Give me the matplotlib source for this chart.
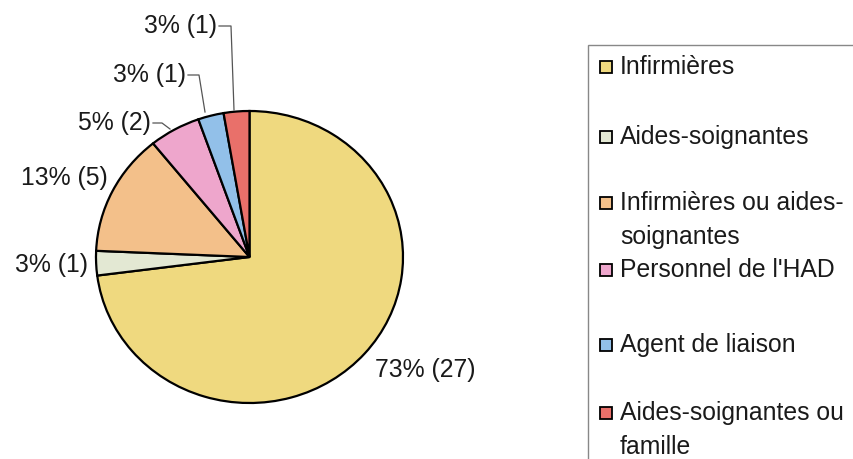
import matplotlib
matplotlib.use("Agg")
import matplotlib.pyplot as plt
from matplotlib.patches import Rectangle

categories = ["Infirmières", "Aides-soignantes", "Infirmières ou aides-\nsoignantes",
              "Personnel de l'HAD", "Agent de liaison", "Aides-soignantes ou\nfamille"]
counts = [27, 1, 5, 2, 1, 1]
percents = [73, 3, 13, 5, 3, 3]
colors = ["#EFD97F", "#E3E8D3", "#F3C08A", "#EEA6CC", "#92C0E9", "#E9706A"]

plt.rcParams['font.family'] = ['Liberation Sans', 'DejaVu Sans']
FS = 17.8

W, H = 854, 459
fig = plt.figure(figsize=(W / 100, H / 100), dpi=100)
fig.patch.set_facecolor("white")

# Pie axes (pixel box)
left, right, top, bottom = 96, 403, 111, 403
axp = fig.add_axes([left / W, (H - bottom) / H, (right - left) / W, (bottom - top) / H])
axp.pie(counts, colors=colors, startangle=90, counterclock=False,
        wedgeprops=dict(edgecolor="black", linewidth=1.6))
axp.set_aspect("auto")
axp.set_xlim(-1, 1)
axp.set_ylim(-1, 1)
axp.axis("off")

# Overlay in pixel coordinates
ov = fig.add_axes([0, 0, 1, 1])
ov.set_xlim(0, W)
ov.set_ylim(H, 0)
ov.axis("off")
ov.patch.set_alpha(0)

labels = [f"{p}% ({c})" for p, c in zip(percents, counts)]
# label anchor positions (x, y, ha)
label_pos = [(375, 370, "left"), (88, 265, "right"), (108, 178, "right"),
             (151, 123, "right"), (186, 75, "right"), (217, 26, "right")]
for txt, (x, y, ha) in zip(labels, label_pos):
    ov.text(x, y, txt, fontsize=FS, ha=ha, va="center", color="#1a1a1a")

# leader lines
leaders = [
    [(153, 123), (162, 123), (170, 129)],
    [(188, 75), (199, 75), (205, 112)],
    [(219, 26), (231, 26), (234, 110)],
]
for pts in leaders:
    xs, ys = zip(*pts)
    ov.plot(xs, ys, color="#555555", lw=0.9)

# Legend box
ov.add_patch(Rectangle((588, 45), 300, 450, facecolor="white",
                       edgecolor="#888888", lw=1.0, zorder=1))
leg_y = [67, 137, 203, 270, 345, 413]
line_gap = 34
for lab, col, y in zip(categories, colors, leg_y):
    ov.add_patch(Rectangle((600, y - 6), 12, 12, facecolor=col,
                           edgecolor="black", lw=1.3, zorder=3))
    for k, line in enumerate(lab.split("\n")):
        ov.text(620, y + k * line_gap, line, fontsize=FS, ha="left", va="center",
                color="#1a1a1a", zorder=3)

fig.savefig("out.png", dpi=100, facecolor="white")
